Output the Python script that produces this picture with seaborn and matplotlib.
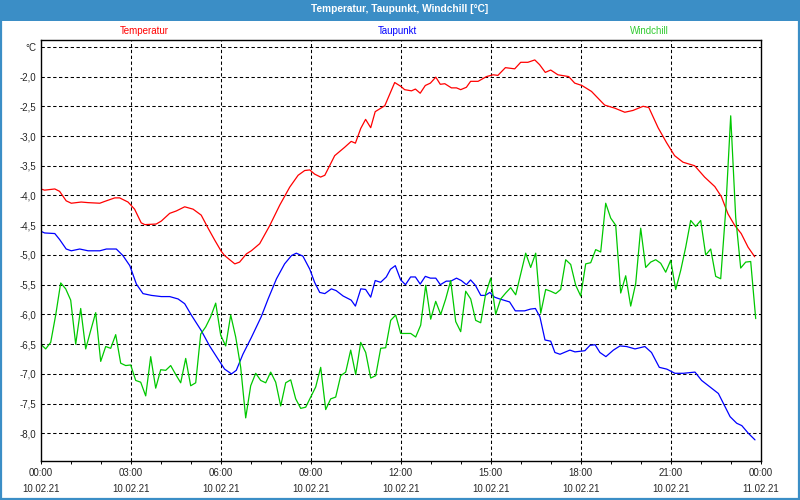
import matplotlib
matplotlib.use("Agg")
import matplotlib.pyplot as plt
from matplotlib.patches import Rectangle
from matplotlib.ticker import MultipleLocator
import numpy as np
import pandas as pd
import seaborn as sns

# Temperatur (hours since 10.02.21 00:00, degC)
temp_hours = [0, 0.13, 0.47, 0.63, 0.85, 1.02, 1.35, 1.58, 1.97, 2.13, 2.47, 2.63, 2.91,
              3.13, 3.35, 3.47, 3.85, 4.02, 4.30, 4.52, 4.80, 5.08, 5.35, 5.58, 5.80,
              6.02, 6.13, 6.47, 6.63, 6.86, 7.02, 7.30, 7.63, 7.97, 8.30, 8.58, 8.80,
              8.97, 9.13, 9.33, 9.47, 9.80, 10.13, 10.35, 10.49, 10.67, 10.83, 11.00,
              11.15, 11.47, 11.80, 12.02, 12.13, 12.36, 12.49, 12.65, 12.82, 12.99,
              13.17, 13.32, 13.47, 13.69, 13.86, 14.00, 14.19, 14.33, 14.58, 14.86,
              15.08, 15.24, 15.49, 15.80, 16.00, 16.24, 16.47, 16.63, 16.82, 17.00,
              17.24, 17.60, 17.80, 18.04, 18.36, 18.80, 19.13, 19.47, 19.74, 20.08,
              20.27, 20.58, 20.86, 21.13, 21.41, 21.80, 22.13, 22.47, 22.69, 22.91,
              23.13, 23.35, 23.58, 23.80]
temp_values = [-3.89, -3.91, -3.89, -3.93, -4.09, -4.13, -4.11, -4.12, -4.13, -4.10,
               -4.04, -4.04, -4.11, -4.23, -4.46, -4.49, -4.48, -4.43, -4.30, -4.26,
               -4.19, -4.23, -4.33, -4.55, -4.75, -4.94, -5.01, -5.15, -5.12, -4.98,
               -4.93, -4.81, -4.51, -4.16, -3.86, -3.66, -3.58, -3.57, -3.64, -3.69,
               -3.66, -3.33, -3.19, -3.09, -3.12, -2.87, -2.72, -2.86, -2.59, -2.49,
               -2.10, -2.17, -2.22, -2.24, -2.21, -2.28, -2.15, -2.11, -2.01, -2.13,
               -2.12, -2.19, -2.19, -2.22, -2.18, -2.08, -2.08, -2.00, -1.97, -1.98,
               -1.85, -1.87, -1.76, -1.76, -1.72, -1.80, -1.93, -1.89, -1.97, -2.00,
               -2.11, -2.15, -2.25, -2.48, -2.53, -2.60, -2.57, -2.50, -2.52, -2.86,
               -3.11, -3.33, -3.44, -3.50, -3.69, -3.85, -4.02, -4.31, -4.50, -4.64,
               -4.87, -5.03]

# Taupunkt
dew_hours = [0, 0.13, 0.47, 0.63, 0.85, 1.02, 1.30, 1.58, 1.97, 2.19, 2.52, 2.74, 2.97,
             3.19, 3.41, 3.69, 4.02, 4.30, 4.58, 4.80, 5.02, 5.35, 5.63, 5.91, 6.13,
             6.36, 6.52, 6.74, 7.02, 7.35, 7.58, 7.86, 8.13, 8.36, 8.52, 8.74, 8.97,
             9.13, 9.30, 9.47, 9.69, 9.85, 10.08, 10.35, 10.49, 10.67, 10.83, 11.00,
             11.15, 11.33, 11.52, 11.66, 11.82, 12.00, 12.16, 12.33, 12.49, 12.65,
             12.82, 12.99, 13.17, 13.32, 13.52, 13.67, 13.86, 14.02, 14.19, 14.33,
             14.49, 14.67, 14.82, 14.97, 15.13, 15.30, 15.63, 15.82, 16.13, 16.33,
             16.49, 16.64, 16.81, 17.00, 17.14, 17.31, 17.64, 17.81, 18.14, 18.31,
             18.48, 18.64, 18.84, 19.09, 19.31, 19.53, 19.81, 20.14, 20.36, 20.62,
             20.87, 21.14, 21.42, 21.81, 22.03, 22.31, 22.59, 22.76, 22.98, 23.20,
             23.37, 23.59, 23.81]
dew_values = [-4.60, -4.63, -4.64, -4.74, -4.90, -4.93, -4.90, -4.93, -4.93, -4.90,
              -4.90, -5.01, -5.18, -5.49, -5.65, -5.68, -5.70, -5.70, -5.74, -5.82,
              -6.01, -6.27, -6.53, -6.75, -6.92, -7.00, -6.94, -6.67, -6.39, -6.04,
              -5.74, -5.40, -5.15, -5.01, -4.97, -5.02, -5.24, -5.46, -5.63, -5.65,
              -5.57, -5.60, -5.69, -5.76, -5.86, -5.57, -5.58, -5.71, -5.43, -5.46,
              -5.37, -5.24, -5.18, -5.42, -5.50, -5.37, -5.37, -5.49, -5.36, -5.39,
              -5.39, -5.50, -5.44, -5.44, -5.39, -5.43, -5.50, -5.42, -5.51, -5.68,
              -5.68, -5.63, -5.71, -5.74, -5.79, -5.94, -5.94, -5.91, -5.90, -6.04,
              -6.43, -6.45, -6.64, -6.67, -6.60, -6.63, -6.61, -6.52, -6.51, -6.64,
              -6.71, -6.60, -6.53, -6.54, -6.58, -6.54, -6.64, -6.89, -6.92, -6.99,
              -6.99, -6.97, -7.11, -7.22, -7.33, -7.50, -7.72, -7.83, -7.87, -8.00,
              -8.11]

# Windchill, one reading every 10 minutes from 00:00
chill_values = [-6.50, -6.58, -6.47, -6.01, -5.47, -5.57, -5.76, -6.50, -5.90, -6.58,
                -6.27, -5.97, -6.79, -6.54, -6.57, -6.34, -6.82, -6.86, -6.85, -7.11,
                -7.14, -7.37, -6.71, -7.24, -6.93, -6.94, -6.86, -7.01, -7.15, -6.74,
                -7.20, -7.15, -6.33, -6.21, -6.04, -5.81, -6.35, -6.53, -6.01, -6.38,
                -6.89, -7.74, -7.20, -6.99, -7.11, -7.15, -6.97, -7.14, -7.54, -7.15,
                -7.10, -7.42, -7.58, -7.56, -7.39, -7.22, -6.89, -7.60, -7.42, -7.39,
                -7.03, -6.97, -6.60, -7.01, -6.47, -6.64, -7.07, -7.03, -6.57, -6.56,
                -6.10, -6.01, -6.32, -6.32, -6.32, -6.38, -6.18, -5.51, -6.08, -5.78,
                -6.00, -5.74, -5.43, -6.12, -6.29, -5.61, -5.74, -6.10, -6.14, -5.65,
                -5.39, -6.00, -5.74, -5.64, -5.55, -5.67, -5.32, -4.97, -5.21, -4.97,
                -5.98, -5.58, -5.61, -5.65, -5.58, -5.08, -5.16, -5.51, -5.69, -5.15,
                -5.13, -4.91, -4.95, -4.13, -4.38, -4.50, -5.64, -5.35, -5.86, -5.48,
                -4.55, -5.21, -5.12, -5.08, -5.14, -5.29, -5.09, -5.58, -5.26, -4.87,
                -4.42, -4.52, -4.42, -5.00, -4.90, -5.36, -5.40, -4.25, -2.66, -4.37,
                -5.22, -5.12, -5.11, -6.07]
chill_hours = np.arange(len(chill_values)) / 6.0

series_names = ["Temperatur", "Taupunkt", "Windchill"]
line_colors = {"Temperatur": "#ff0000", "Taupunkt": "#0000ff", "Windchill": "#00c800"}
label_colors = {"Temperatur": "#ff0000", "Taupunkt": "#0000ff", "Windchill": "#33cc33"}

tick_hours = list(range(0, 25, 3))
tick_labels = ["00:00\n10.02.21", "03:00\n10.02.21", "06:00\n10.02.21", "09:00\n10.02.21",
               "12:00\n10.02.21", "15:00\n10.02.21", "18:00\n10.02.21", "21:00\n10.02.21",
               "00:00\n11.02.21"]
y_ticks = [-8.0, -7.5, -7.0, -6.5, -6.0, -5.5, -5.0, -4.5, -4.0, -3.5, -3.0, -2.5, -2.0, -1.5]

df = pd.concat([
    pd.DataFrame({"hour": temp_hours, "value": temp_values, "series": "Temperatur"}),
    pd.DataFrame({"hour": dew_hours, "value": dew_values, "series": "Taupunkt"}),
    pd.DataFrame({"hour": chill_hours, "value": chill_values, "series": "Windchill"}),
], ignore_index=True)

sns.set_style("white")
plt.rcParams["font.family"] = ["Liberation Sans", "DejaVu Sans"]
plt.rcParams["lines.scale_dashes"] = False

bar_blue = "#3b8ec6"
fig = plt.figure(figsize=(8, 5), dpi=100)
fig.patch.set_facecolor("white")
ax = fig.add_axes([40.7 / 800, 39.3 / 500, 720 / 800, 420.4 / 500])

sns.lineplot(data=df, x="hour", y="value", hue="series", hue_order=series_names,
             palette=line_colors, estimator=None, sort=False, linewidth=0.9,
             legend=False, ax=ax)

ax.set_xlim(0, 24)
ax.set_ylim(-8.46, -1.39)
ax.set_xticks(tick_hours)
ax.set_xticklabels(tick_labels, fontsize=7, linespacing=1.65)
ax.xaxis.set_minor_locator(MultipleLocator(1))
ax.tick_params(axis="x", which="both", direction="out", length=2.5, width=0.7,
               color="black", pad=3, bottom=True)
ax.set_yticks(y_ticks)
ax.set_yticklabels([f"{v:.1f}".replace(".", ",") for v in y_ticks[:-1]] + ["°C"], fontsize=7)
ax.tick_params(axis="y", length=0, pad=3)
ax.set_xlabel("")
ax.set_ylabel("")

for v in y_ticks:
    ax.axhline(v, color="black", linewidth=0.75, linestyle=(0, (2.4, 1.8)), zorder=0)
for h in tick_hours[1:-1]:
    ax.axvline(h, color="black", linewidth=0.75, linestyle=(0, (2.4, 1.8)), zorder=0)

for s in ax.spines.values():
    s.set_color("black")
    s.set_linewidth(1.0)

# title bar, outer frame and series labels
fig.patches.append(Rectangle((0, 1 - 21 / 500), 1, 21 / 500, transform=fig.transFigure,
                             facecolor=bar_blue, edgecolor="none", zorder=0))
fig.patches.append(Rectangle((0.001, 0.002), 0.998, 0.996, transform=fig.transFigure,
                             fill=False, edgecolor=bar_blue, linewidth=1.6, zorder=1))
fig.text(0.5, 1 - 9 / 500, "Temperatur, Taupunkt, Windchill [°C]", color="white",
         fontsize=7.3, fontweight="bold", ha="center", va="center")
for name, xpos in zip(series_names, [144, 397, 649]):
    fig.text(xpos / 800, 1 - 30.5 / 500, name, color=label_colors[name], fontsize=7,
             ha="center", va="center")

fig.savefig("out.png", dpi=100)
